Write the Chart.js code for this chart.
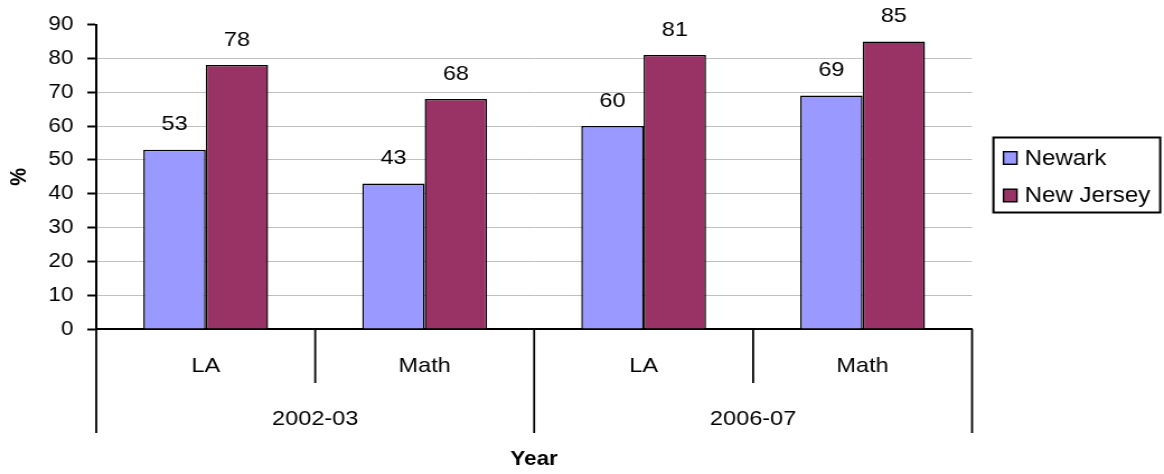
<!DOCTYPE html>
<html>
<head>
<meta charset="utf-8">
<script src="https://cdn.jsdelivr.net/npm/chart.js@4/dist/chart.umd.min.js"></script>
<style>
  html, body { margin: 0; padding: 0; background: #ffffff; overflow: hidden; }
</style>
</head>
<body>
<!-- the drawing surface is a little narrower than the page and is widened to fill it -->
<canvas id="chart" width="1040" height="474" style="display:block;width:1164px;height:474px"></canvas>
<script>
// Proficiency rates, by school year and subject
const subjects = ['LA', 'Math', 'LA', 'Math'];
const years = ['2002-03', '2006-07'];
const newarkPct = [53, 43, 60, 69];
const newJerseyPct = [78, 68, 81, 85];
const yTicks = [0, 10, 20, 30, 40, 50, 60, 70, 80, 90];

const FONT = "'Liberation Sans', Arial, Helvetica, sans-serif";
Chart.defaults.font.family = FONT;
Chart.defaults.color = '#000000';

// value printed above each bar
const valueLabels = {
  id: 'valueLabels',
  afterDatasetsDraw(chart) {
    const ctx = chart.ctx;
    ctx.save();
    ctx.font = '21px ' + FONT;
    ctx.fillStyle = '#000000';
    ctx.textAlign = 'center';
    ctx.textBaseline = 'middle';
    chart.data.datasets.forEach((ds, i) => {
      chart.getDatasetMeta(i).data.forEach((bar, j) => {
        ctx.fillText(String(ds.data[j]), bar.x, bar.y - 25);
      });
    });
    ctx.restore();
  }
};

// vertical dividers under the axis: short between subjects, long between years
const categoryDividers = {
  id: 'categoryDividers',
  afterDraw(chart) {
    const x = chart.scales.x;
    const ctx = chart.ctx;
    const n = subjects.length;
    const perYear = n / years.length;
    const step = (x.right - x.left) / n;
    ctx.save();
    ctx.strokeStyle = '#000000';
    ctx.lineWidth = 1.8;
    for (let i = 0; i <= n; i++) {
      const px = x.left + i * step;
      const len = (i % perYear === 0) ? 104 : 54;
      ctx.beginPath();
      ctx.moveTo(px, x.top);
      ctx.lineTo(px, x.top + len);
      ctx.stroke();
    }
    ctx.restore();
  }
};

// framed legend at the right of the plot
const boxedLegend = {
  id: 'boxedLegend',
  afterDraw(chart) {
    const ctx = chart.ctx;
    ctx.save();
    ctx.strokeStyle = '#000000';
    ctx.lineWidth = 2;
    ctx.strokeRect(887.6, 137.5, 149, 75);
    ctx.font = '21.5px ' + FONT;
    ctx.textAlign = 'left';
    ctx.textBaseline = 'middle';
    chart.data.datasets.forEach((ds, i) => {
      const cy = 158 + i * 37.5;
      ctx.fillStyle = ds.backgroundColor;
      ctx.fillRect(896.6, cy - 6.3, 12, 12.6);
      ctx.lineWidth = 1.4;
      ctx.strokeRect(896.6, cy - 6.3, 12, 12.6);
      ctx.fillStyle = '#000000';
      ctx.fillText(ds.label, 915.5, cy + 1);
    });
    ctx.restore();
  }
};

new Chart(document.getElementById('chart'), {
  type: 'bar',
  data: {
    labels: subjects,
    datasets: [
      {
        label: 'Newark',
        data: newarkPct,
        xAxisID: 'x',
        backgroundColor: '#9999FF',
        borderColor: '#000000',
        borderWidth: 1.5,
        categoryPercentage: 0.57,
        barPercentage: 1
      },
      {
        label: 'New Jersey',
        data: newJerseyPct,
        xAxisID: 'x',
        backgroundColor: '#993366',
        borderColor: '#000000',
        borderWidth: 1.5,
        categoryPercentage: 0.57,
        barPercentage: 1
      }
    ]
  },
  options: {
    responsive: false,
    animation: false,
    devicePixelRatio: 1,
    layout: { padding: { top: 21, right: 171.5, bottom: 0, left: 0 } },
    plugins: {
      legend: { display: false },
      tooltip: { enabled: false }
    },
    scales: {
      y: {
        min: 0,
        max: 90,
        afterFit(s) { s.width = 86; },
        afterBuildTicks(s) { s.ticks = yTicks.map(v => ({ value: v })); },
        ticks: { padding: 12.5, color: '#000000', font: { size: 20, lineHeight: 1.2 } },
        grid: {
          color: c => (c.tick && c.tick.value === 90) ? 'rgba(0,0,0,0)' : '#C0C0C0',
          lineWidth: 1,
          tickColor: '#000000',
          tickLength: 8,
          tickWidth: 2
        },
        border: { color: '#000000', width: 2 },
        title: {
          display: true,
          text: '%',
          color: '#000000',
          font: { size: 20, weight: 'bold', lineHeight: 1.2 },
          padding: { top: 5, bottom: 0 }
        }
      },
      x: {
        type: 'category',
        position: 'bottom',
        weight: 0,
        afterFit(s) { s.height = 54; },
        grid: { display: false, drawTicks: false },
        border: { display: true, color: '#000000', width: 2 },
        ticks: { padding: 24.5, color: '#000000', font: { size: 21, lineHeight: 1.2 }, maxRotation: 0, autoSkip: false }
      },
      x2: {
        type: 'category',
        axis: 'x',
        position: 'bottom',
        weight: 1,
        labels: years,
        offset: true,
        afterFit(s) { s.height = 91; },
        grid: { display: false, drawTicks: false },
        border: { display: false },
        ticks: { padding: 23.5, color: '#000000', font: { size: 21, lineHeight: 1.2 }, maxRotation: 0, autoSkip: false },
        title: {
          display: true,
          text: 'Year',
          color: '#000000',
          font: { size: 20, weight: 'bold', lineHeight: 1.2 },
          padding: { top: 0, bottom: 3 }
        }
      }
    }
  },
  plugins: [valueLabels, categoryDividers, boxedLegend]
});
</script>
</body>
</html>
